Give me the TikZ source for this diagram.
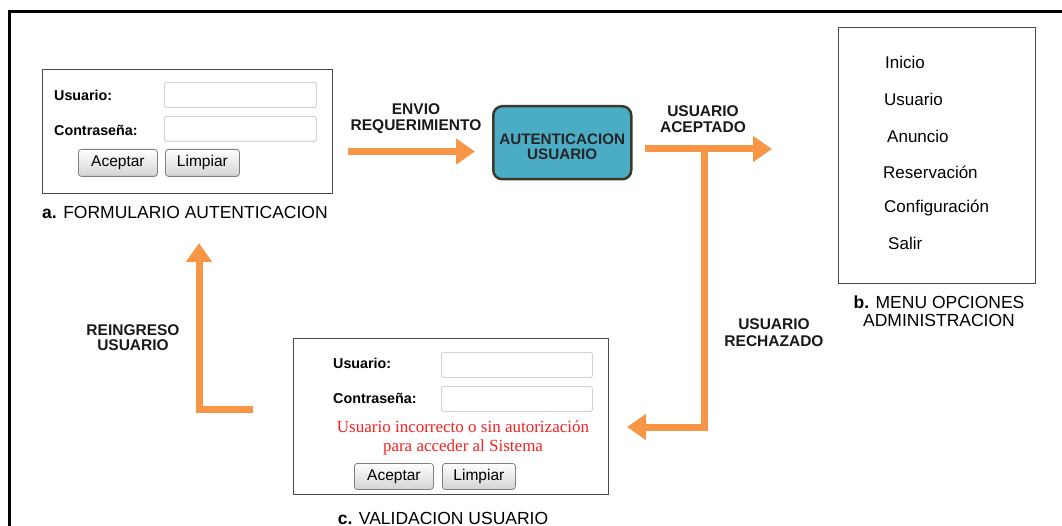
\documentclass[tikz,border=0pt]{standalone}
\usepackage{fontspec}
\setmainfont{Liberation Sans}
\newfontfamily\seriffont{Liberation Serif}
\usetikzlibrary{arrows.meta,shadings}
\definecolor{arrowor}{HTML}{F79646}
\definecolor{boxblue}{HTML}{4BACC6}
\definecolor{boxedge}{HTML}{3B3A2A}
\definecolor{errred}{HTML}{F52222}
\definecolor{framegray}{HTML}{4A4A4A}
\definecolor{fieldgray}{HTML}{D2D2D2}
\begin{document}
\begin{tikzpicture}[x=1pt,y=-1pt,
 panel/.style={draw=framegray, line width=1.3pt, fill=white, anchor=north west, inner sep=0pt},
 field/.style={draw=fieldgray, line width=0.8pt, fill=white, rounded corners=1.5pt, anchor=north west, minimum height=25pt},
 button/.style={draw=black!50, line width=0.8pt, rounded corners=3pt, top color=white, bottom color=black!17, inner sep=0pt, anchor=north west, font=\fontsize{15.5}{16}\selectfont},
 flabel/.style={font=\fontsize{14.3}{15}\selectfont\bfseries, inner sep=0pt, anchor=west},
 alabel/.style={font=\fontsize{15.5}{16}\selectfont\bfseries, align=center, inner sep=0pt, text=black!90},
 caption/.style={font=\fontsize{17.5}{18}\selectfont, inner sep=0pt, align=center},
 menuitem/.style={font=\fontsize{17}{18}\selectfont, inner sep=0pt, anchor=west},
 flow/.style={draw=arrowor, line width=7pt, -{Triangle[length=19pt,width=25pt]}, line join=miter},
]
\useasboundingbox (0,0) rectangle (1062,526);
% outer frame
\draw[line width=3pt] (9,530) -- (9,12) -- (1066,12);

% a. form
\node[panel, minimum width=290pt, minimum height=124pt] (a) at (42,69) {};
\node[flabel] (au) at (54,95) {Usuario:};
\node[flabel] (ac) at (54,130) {Contraseña:};
\node[field, minimum width=152pt] (auf) at (164,82) {};
\node[field, minimum width=152pt] (acf) at (164,116) {};
\node[button, minimum width=79pt, minimum height=27pt] (aok) at (78,149) {Aceptar};
\node[button, minimum width=74pt, minimum height=27pt] (acl) at (165,149) {Limpiar};
\node[caption, anchor=west] (acap) at (42,212) {\textbf{a.} FORMULARIO AUTENTICACION};

% central process
\node[draw=boxedge, fill=boxblue, line width=2.5pt, rounded corners=9pt, minimum width=138pt, minimum height=73pt, anchor=north west] (auth) at (492,105) {};
\node[align=center, inner sep=0pt, font=\fontsize{15.2}{15}\selectfont\bfseries, text=black!85] (authtext) at ([yshift=-4pt]auth.center) {AUTENTICACION\\USUARIO};

% b. menu
\node[panel, minimum width=197pt, minimum height=256pt] (b) at (838,27) {};
\node[menuitem] (m1) at (885,62) {Inicio};
\node[menuitem] (m2) at (884,99) {Usuario};
\node[menuitem] (m3) at (887,136) {Anuncio};
\node[menuitem] (m4) at (883,172) {Reservación};
\node[menuitem] (m5) at (884,208) {Configuración};
\node[menuitem] (m6) at (888,243) {Salir};
\node[caption] (bcap) at (939,311) {\textbf{b.} MENU OPCIONES\\ADMINISTRACION};

% c. validation
\node[panel, minimum width=315pt, minimum height=156pt] (c) at (293,338) {};
\node[flabel] (cu) at (333,363) {Usuario:};
\node[flabel] (cc) at (333,398) {Contraseña:};
\node[field, minimum width=151pt] (cuf) at (441,352) {};
\node[field, minimum width=151pt] (ccf) at (441,386) {};
\node[font=\seriffont\fontsize{17}{19}\selectfont, text=errred, align=center, inner sep=0pt] (err) at (463,437.5) {Usuario incorrecto o sin autorización\\para acceder al Sistema};
\node[button, minimum width=79pt, minimum height=26pt] (cok) at (354,463) {Aceptar};
\node[button, minimum width=73pt, minimum height=26pt] (ccl) at (442,463) {Limpiar};
\node[caption] (ccap) at (443,518) {\textbf{c.} VALIDACION USUARIO};

% connectors
\coordinate (e1) at (348,151.5);
\coordinate (e2) at (475,151.5);
\draw[flow] (e1) -- (e2);
\node[alabel] (lenv) at (416,119) {ENVIO\\REQUERIMIENTO};

\coordinate (s1) at (645,149);
\coordinate (s2) at (772,149);
\draw[flow] (s1) -- (s2);
\node[alabel] (lacc) at (703,119) {USUARIO\\ACEPTADO};

\coordinate (j) at (704,149);
\coordinate (r) at (627,427);
\draw[flow] (j) |- (r);
\node[alabel, font=\fontsize{15.5}{17}\selectfont\bfseries] (lrej) at (774,332.5) {USUARIO\\RECHAZADO};

\coordinate (g1) at (253,409);
\coordinate (g2) at (199,243);
\draw[flow] (g1) -| (g2);
\node[alabel, font=\fontsize{15.5}{15}\selectfont\bfseries] (lre) at (133,337.5) {REINGRESO\\USUARIO};
\end{tikzpicture}
\end{document}
